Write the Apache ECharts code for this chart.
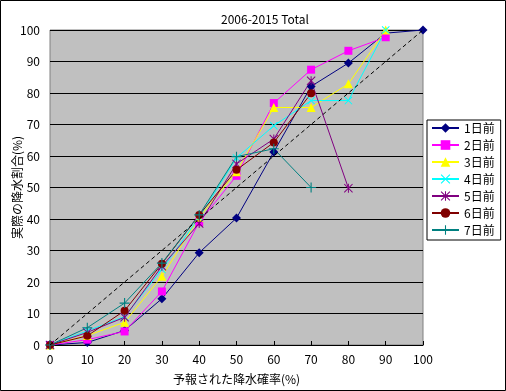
<!DOCTYPE html>
<html><head><meta charset="utf-8">
<script src="https://cdn.jsdelivr.net/npm/echarts@6/dist/echarts.min.js"></script>
<style>html,body{margin:0;padding:0;background:#fff}#c{width:506px;height:391px}</style>
</head><body><div id="c"></div>
<script>
const xCats = [0,10,20,30,40,50,60,70,80,90,100];
const seriesNames = ['1日前','2日前','3日前','4日前','5日前','6日前','7日前'];
const d1 = [0, 0.8, 4.6, 14.7, 29.3, 40.3, 61.3, 82.1, 89.5, 99, 100];
const d2 = [0, 1.7, 4.3, 17.0, 39, 53.7, 76.8, 87.4, 93.4, 97.7];
const d3 = [0, 3, 7.2, 21.8, 40.5, 55, 75.4, 75.4, 82.9, 100];
const d4 = [0, 4.5, 9, 24, 40.5, 59.4, 69.6, 77.6, 77.6, 100];
const d5 = [0, 4, 8.8, 25, 38.6, 57.5, 65.4, 83.9, 49.8];
const d6 = [0, 2.9, 10.9, 25.8, 41.3, 55.6, 64.3, 79.9];
const d7 = [0, 5.5, 13.3, 26, 41.3, 59.8, 62.3, 50];
const diag = [0, 100];
const diagX = [0, 100];
const titleText = '2006-2015 Total';
const xName = '予報された降水確率(%)';
const yName = '実際の降水割合(%)';

const colors = ['#000080','#FF00FF','#FFFF00','#00FFFF','#800080','#800000','#008080'];
const X = 'path://M0,0.8 L0.8,0 L5,4.2 L9.2,0 L10,0.8 L5.8,5 L10,9.2 L9.2,10 L5,5.8 L0.8,10 L0,9.2 L4.2,5 Z';
const STAR = X.replace(' Z',' Z M4.45,0 L5.55,0 L5.55,10 L4.45,10 Z');
const PLUS = 'path://M4.45,0 L5.55,0 L5.55,4.45 L10,4.45 L10,5.55 L5.55,5.55 L5.55,10 L4.45,10 L4.45,5.55 L0,5.55 L0,4.45 L4.45,4.45 Z';
const symbols = ['diamond','rect','triangle',X,STAR,'circle',PLUS];
const sizes = [9,8,9,8,9,8,10];
const datas = [d1,d2,d3,d4,d5,d6,d7];
const font = '"Noto Sans CJK JP", sans-serif';

const series = datas.map((d,i)=>({
  name: seriesNames[i], type:'line',
  data: d.map((v,j)=>[xCats[j], v]),
  symbol: symbols[i], symbolSize: sizes[i], showSymbol:true,
  lineStyle:{color:colors[i], width:1},
  itemStyle:{color:colors[i]},
  animation:false, z: 3
}));
series.push({
  name:'diag', type:'line', data: diagX.map((x,j)=>[x, diag[j]]),
  symbol:'none', lineStyle:{color:'#000', width:1, type:[4,3]}, z:4, animation:false
});

const chart = echarts.init(document.getElementById('c'), null, {renderer:'canvas'});
chart.setOption({
  animation:false,
  backgroundColor:'#fff',
  title:{text:titleText, left:216, top:8, textStyle:{fontFamily:font, fontSize:12, fontWeight:'normal', color:'#000'}},
  grid:{left:50, top:30, right:83, bottom:46, containLabel:false, outerBoundsMode:'none', show:true, backgroundColor:'#C0C0C0', borderColor:'#808080', borderWidth:1},
  legend:{
    data: seriesNames, orient:'vertical', left:427, top:120,
    padding:[2,6,4,4], itemGap:5, itemWidth:27, itemHeight:12,
    backgroundColor:'#fff', borderColor:'#000', borderWidth:1,
    textStyle:{fontFamily:font, fontSize:12, color:'#000'}
  },
  xAxis:{type:'value', min:0, max:100, interval:10,
    name:xName, nameLocation:'middle', nameGap:28, nameMoveOverlap:false,
    nameTextStyle:{fontFamily:font, fontSize:12, color:'#000'},
    axisLine:{lineStyle:{color:'#000'}},
    axisTick:{show:true, inside:true, length:4, lineStyle:{color:'#000'}},
    axisLabel:{fontFamily:font, fontSize:12, color:'#000', margin:8},
    splitLine:{show:false}},
  yAxis:{type:'value', min:0, max:100, interval:10,
    name:yName, nameLocation:'middle', nameGap:27, nameRotate:90, nameMoveOverlap:false,
    nameTextStyle:{fontFamily:font, fontSize:12, color:'#000'},
    axisLine:{show:false},
    axisTick:{show:false},
    axisLabel:{fontFamily:font, fontSize:12, color:'#000', margin:10},
    splitLine:{show:true, lineStyle:{color:'#000', width:1}}},
  graphic:[{type:'rect', shape:{x:0.5,y:0.5,width:505,height:390}, style:{fill:'none', stroke:'#000', lineWidth:1}, z:100}],
  series: series
});
</script></body></html>
